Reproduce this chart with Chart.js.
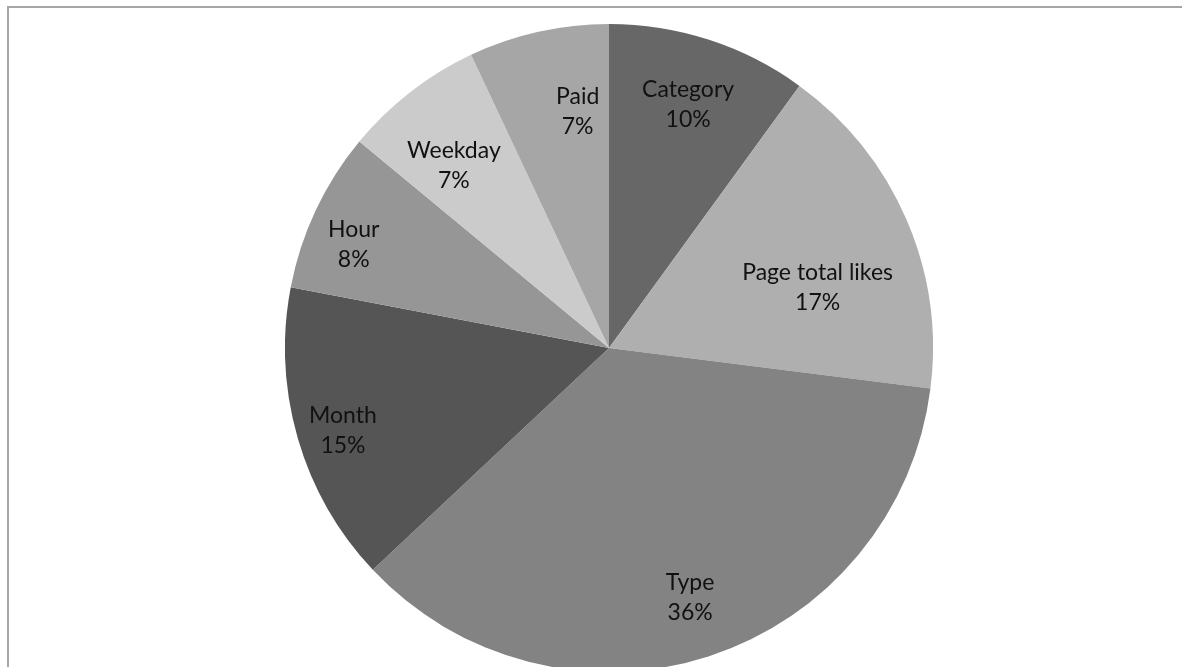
<!DOCTYPE html>
<html>
<head>
<meta charset="utf-8">
<script src="https://cdn.jsdelivr.net/npm/chart.js@4.4.0/dist/chart.umd.min.js"></script>
<style>
    html, body { margin: 0; padding: 0; width: 1182px; height: 667px; overflow: hidden; background: #fff; }
    #frame { position: absolute; left: 7px; top: 6px; width: 1200px; height: 700px; border: 2px solid #a6a6a6; }
    #pieBox { position: absolute; left: 285px; top: 24px; width: 648px; height: 648px; }
</style>
</head>
<body>
<div id="frame"></div>
<div id="pieBox"><canvas id="pie"></canvas></div>
<script>
    var categories = ['Category', 'Page total likes', 'Type', 'Month', 'Hour', 'Weekday', 'Paid'];
    var shares = [10, 17, 36, 15, 8, 7, 7];
    var sliceColors = ['#676767', '#afafaf', '#838383', '#555555', '#969696', '#cbcbcb', '#a6a6a6'];

    // where each label sits: fraction along the slice's sweep, fraction of the radius
    var labelSweep = [0.5, 0.62, 0.5, 0.48, 0.39, 0.4, 0.7];
    var labelDepth = [0.79, 0.67, 0.81, 0.86, 0.85, 0.74, 0.735];

    // name + percentage written inside each slice
    var sliceLabels = {
        id: 'sliceLabels',
        afterDatasetsDraw: function (chart, args, opts) {
            var ctx = chart.ctx;
            var meta = chart.getDatasetMeta(0);
            var total = shares.reduce(function (a, b) { return a + b; }, 0);
            ctx.save();
            ctx.font = opts.size + 'px ' + opts.family;
            ctx.fillStyle = opts.color;
            ctx.textAlign = 'center';
            ctx.textBaseline = 'middle';
            meta.data.forEach(function (arc, i) {
                var p = arc.getProps(['x', 'y', 'startAngle', 'endAngle', 'outerRadius'], true);
                var a = p.startAngle + (p.endAngle - p.startAngle) * labelSweep[i];
                var r = p.outerRadius * labelDepth[i];
                var x = p.x + Math.cos(a) * r;
                var y = p.y + Math.sin(a) * r;
                ctx.fillText(categories[i], x, y - opts.lineGap / 2);
                ctx.fillText(Math.round(shares[i] / total * 100) + '%', x, y + opts.lineGap / 2);
            });
            ctx.restore();
        }
    };

    new Chart(document.getElementById('pie'), {
        type: 'pie',
        data: {
            labels: categories,
            datasets: [{
                data: shares,
                backgroundColor: sliceColors,
                borderWidth: 0
            }]
        },
        options: {
            responsive: true,
            maintainAspectRatio: false,
            animation: false,
            layout: { padding: 0 },
            plugins: {
                legend: { display: false },
                tooltip: { enabled: false },
                sliceLabels: { size: 23, family: 'Lato, sans-serif', color: '#111', lineGap: 30 }
            }
        },
        plugins: [sliceLabels]
    });
</script>
</body>
</html>
